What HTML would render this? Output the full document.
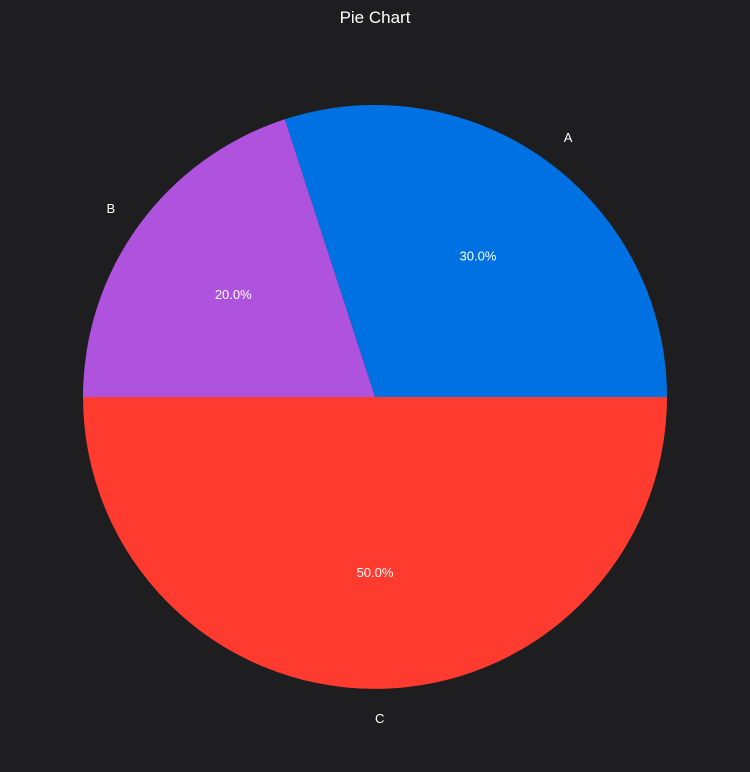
<!DOCTYPE html>
<html>
<head>
<meta charset="utf-8">
<style>
html,body{margin:0;padding:0;background:#1e1e20;}
svg{display:block;font-family:"Liberation Sans",Arial,sans-serif;}
</style>
</head>
<body>
<svg id="chart" width="750" height="772" viewBox="0 0 750 772">
  <rect width="750" height="772" fill="#1e1e20"/>
  <text x="375" y="23" text-anchor="middle" fill="#ffffff" font-size="17">Pie Chart</text>
  <g id="slices"></g>
</svg>
<script>
const categories = ["A", "B", "C"];
const values = [30, 20, 50];
const pctLabels = ["30.0%", "20.0%", "50.0%"];
const colors = ["#0071e3", "#af52de", "#ff3b30"];

const cx = 375, cy = 397, r = 292;
const ns = "http://www.w3.org/2000/svg";
const g = document.getElementById("slices");
const total = values.reduce((a, b) => a + b, 0);
function pt(angDeg, rad) {
  const a = angDeg * Math.PI / 180;
  return [cx + rad * Math.cos(a), cy - rad * Math.sin(a)];
}
let start = 0;
values.forEach((v, i) => {
  const sweep = v / total * 360;
  const end = start + sweep;
  const [x1, y1] = pt(start, r);
  const [x2, y2] = pt(end, r);
  const large = sweep > 180 ? 1 : 0;
  const p = document.createElementNS(ns, "path");
  p.setAttribute("d", `M${cx},${cy} L${x1},${y1} A${r},${r} 0 ${large} 0 ${x2},${y2} Z`);
  p.setAttribute("fill", colors[i]);
  
  
  g.appendChild(p);
  const mid = start + sweep / 2;
  const [lx, ly] = pt(mid, r * 1.1);
  const t = document.createElementNS(ns, "text");
  t.setAttribute("x", lx);
  t.setAttribute("y", ly + 5);
  t.setAttribute("text-anchor", Math.cos(mid * Math.PI / 180) > -0.01 ? "start" : "end");
  t.setAttribute("fill", "#ffffff");
  t.setAttribute("font-size", "13");
  t.textContent = categories[i];
  
  
  g.appendChild(t);
  const [px, py] = pt(mid, r * 0.6);
  const pc = document.createElementNS(ns, "text");
  pc.setAttribute("x", px);
  pc.setAttribute("y", py + 5);
  pc.setAttribute("text-anchor", "middle");
  pc.setAttribute("fill", "#ffffff");
  pc.setAttribute("font-size", "13");
  pc.textContent = pctLabels[i];
  
  
  g.appendChild(pc);
  start = end;
});
</script>
</body>
</html>
